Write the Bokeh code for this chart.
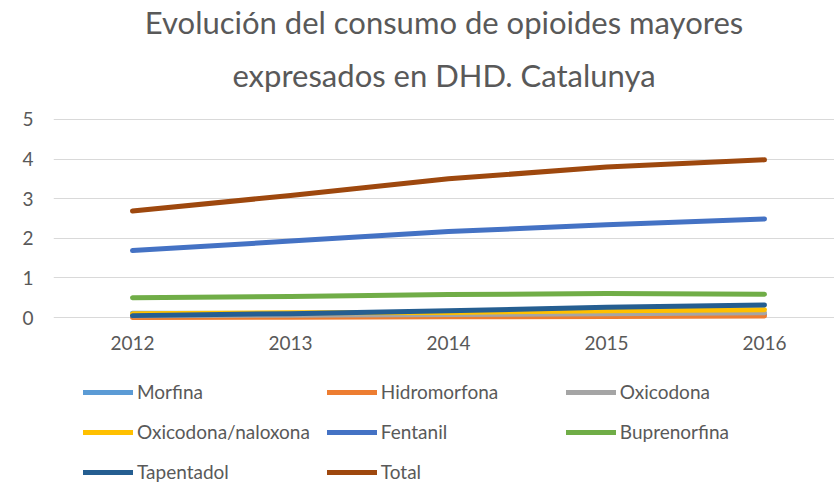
from bokeh.plotting import figure
from bokeh.layouts import column
from bokeh.models import Legend, LegendItem, Title, FixedTicker
from bokeh.embed import file_html
from bokeh.resources import INLINE

years = [2012, 2013, 2014, 2015, 2016]
morfina = [0.11, 0.10, 0.10, 0.09, 0.08]
hidromorfona = [0.00, 0.01, 0.02, 0.03, 0.04]
oxicodona = [0.05, 0.06, 0.08, 0.10, 0.12]
oxicodona_naloxona = [0.10, 0.12, 0.13, 0.17, 0.20]
fentanil = [1.69, 1.93, 2.17, 2.34, 2.49]
buprenorfina = [0.50, 0.53, 0.58, 0.61, 0.59]
tapentadol = [0.05, 0.10, 0.17, 0.26, 0.32]
total = [2.69, 3.08, 3.50, 3.80, 3.98]
y_ticks = [0, 1, 2, 3, 4, 5]
title_line1 = "Evolución del consumo de opioides mayores"
title_line2 = "expresados en DHD. Catalunya"

series = [
    ("Morfina", morfina, "#5B9BD5"),
    ("Hidromorfona", hidromorfona, "#ED7D31"),
    ("Oxicodona", oxicodona, "#A5A5A5"),
    ("Oxicodona/naloxona", oxicodona_naloxona, "#FFC000"),
    ("Fentanil", fentanil, "#4472C4"),
    ("Buprenorfina", buprenorfina, "#70AD47"),
    ("Tapentadol", tapentadol, "#255E91"),
    ("Total", total, "#9E480E"),
]

FONT = "Lato"
GRAY = "#595959"

# ---------- main chart ----------
p = figure(width=834, height=372, output_backend="svg", toolbar_location=None,
           x_range=(2011.5, 2016.443), y_range=(-0.3, 5.3),
           min_border_left=53, min_border_right=0, min_border_top=104, min_border_bottom=43)
p.outline_line_color = None

for name, vals, color in series:
    p.line(years, vals, line_color=color, line_width=5, line_cap="round", line_join="round")

p.yaxis.ticker = FixedTicker(ticks=y_ticks)
p.xaxis.ticker = FixedTicker(ticks=years)
p.ygrid.ticker = FixedTicker(ticks=y_ticks)
p.xgrid.visible = False
p.ygrid.grid_line_color = "#D9D9D9"
p.ygrid.grid_line_width = 1.2

for ax in (p.xaxis, p.yaxis):
    ax.axis_line_color = None
    ax.major_tick_line_color = None
    ax.minor_tick_line_color = None
    ax.major_tick_out = 0
    ax.major_tick_in = 0
    ax.minor_tick_out = 0
    ax.minor_tick_in = 0
    ax.major_label_text_font = FONT
    ax.major_label_text_font_size = "19px"
    ax.major_label_text_color = GRAY
p.yaxis.major_label_standoff = 20
p.xaxis.major_label_standoff = 6

p.add_layout(Title(text=title_line2, align="center", text_font=FONT,
                   text_font_size="31px", text_font_style="normal", text_color=GRAY,
                   offset=-6, standoff=27), "above")
p.add_layout(Title(text=title_line1, align="center", text_font=FONT,
                   text_font_size="31px", text_font_style="normal", text_color=GRAY,
                   offset=-6, standoff=0), "above")

# ---------- legend panel ----------
lf = figure(width=834, height=112, output_backend="svg", toolbar_location=None,
            x_axis_location=None, y_axis_location=None,
            min_border_left=53, min_border_right=0, min_border_top=0, min_border_bottom=0)
lf.outline_line_color = None
lf.grid.visible = False

lrend = {}
for name, vals, color in series:
    r = lf.line(years, vals, line_color=color, line_width=5, line_cap="round")
    r.visible = False
    lrend[name] = r

# column-major fill so that rows read Morfina, Hidromorfona, Oxicodona ...
order = ["Morfina", "Oxicodona/naloxona", "Tapentadol",
         "Hidromorfona", "Fentanil", "Total",
         "Oxicodona", "Buprenorfina"]
items = [LegendItem(label=n, renderers=[lrend[n]]) for n in order]
legend = Legend(items=items, ncols=3, orientation="vertical", location=(30, 1),
                label_text_font=FONT, label_text_font_size="19px", label_text_color=GRAY,
                glyph_width=50, glyph_height=20, label_standoff=4, label_height=20,
                label_width=168, spacing=17, margin=0, padding=0,
                border_line_color=None, background_fill_alpha=0)
lf.add_layout(legend, "center")

layout = column(p, lf, spacing=0)
open("out.html", "w").write(file_html(layout, INLINE))
